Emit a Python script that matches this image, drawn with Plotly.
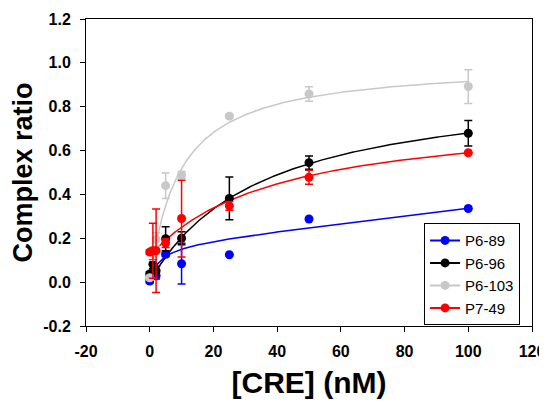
import numpy as np
import plotly.graph_objects as go

# ---- data ----
conc = [0, 1, 2, 5, 10, 25, 50, 100]

p6_89 = [0.005, 0.044, 0.029, 0.127, 0.084, 0.125, 0.288, 0.336]
p6_89_err = [0.01, 0.01, 0.015, 0.01, 0.093, 0.0, 0.0, 0.0]

p6_96 = [0.037, 0.082, 0.052, 0.198, 0.200, 0.382, 0.545, 0.679]
p6_96_err = [0.01, 0.02, 0.02, 0.055, 0.03, 0.097, 0.03, 0.058]

p6_103 = [0.02, 0.13, 0.195, 0.440, 0.489, 0.757, 0.858, 0.892]
p6_103_err = [0.01, 0.03, 0.03, 0.058, 0.015, 0.01, 0.033, 0.077]

p7_49 = [0.137, 0.143, 0.143, 0.178, 0.290, 0.348, 0.478, 0.590]
p7_49_err = [0.01, 0.125, 0.19, 0.02, 0.175, 0.02, 0.032, 0.0]

# binding-curve parameters:
# y = offset + Bmax*x/(Kd+x) + ns*x
fit_offset = [0.0, 0.0, 0.0, 0.12]
fit_bmax = [0.173, 0.918, 1.0, 0.66]
fit_kd = [3.0, 35.0, 9.3, 40.4]
fit_ns = [0.00169, 0.0, 0.0, 0.0]

names = ["P6-89", "P6-96", "P6-103", "P7-49"]
colors = ["#0000ff", "#000000", "#c8c8c8", "#ff0000"]
values = [p6_89, p6_96, p6_103, p7_49]
errors = [p6_89_err, p6_96_err, p6_103_err, p7_49_err]

x_ticks = [-20, 0, 20, 40, 60, 80, 100, 120]
y_ticks = [-0.2, 0.0, 0.2, 0.4, 0.6, 0.8, 1.0, 1.2]

FONT = "Arial, Liberation Sans, sans-serif"

fig = go.Figure()
xs = np.linspace(min(conc), max(conc), 400)
for col, y0, b, k, ns in zip(colors, fit_offset, fit_bmax, fit_kd, fit_ns):
    fig.add_trace(go.Scatter(x=xs, y=y0 + b * xs / (k + xs) + ns * xs, mode="lines",
                             line=dict(color=col, width=1.5),
                             showlegend=False, hoverinfo="skip"))
for name, col, v, e in zip(names, colors, values, errors):
    fig.add_trace(go.Scatter(x=conc, y=v, mode="markers", name=name,
                             marker=dict(color=col, size=9),
                             error_y=dict(type="data", array=e, visible=True,
                                          color=col, thickness=1.5, width=4),
                             showlegend=False))
for name, col in zip(names, colors):
    fig.add_trace(go.Scatter(x=[None], y=[None], mode="lines+markers", name=name,
                             line=dict(color=col, width=2),
                             marker=dict(color=col, size=9)))

fig.update_layout(
    width=539, height=395,
    margin=dict(l=78, r=15, t=11, b=77),
    paper_bgcolor="white", plot_bgcolor="white",
    font=dict(family=FONT, color="black"),
    legend=dict(x=0.758, y=0.335, xanchor="left", yanchor="top",
                bordercolor="black", borderwidth=1, bgcolor="white",
                font=dict(size=15, family=FONT), tracegroupgap=0,
                itemwidth=30),
    xaxis=dict(range=[-20, 120], tickvals=x_ticks,
               ticktext=[str(t) for t in x_ticks], automargin=False,
               ticks="outside", ticklen=5, tickcolor="black",
               showline=True, linecolor="black", linewidth=1, mirror=True,
               showgrid=False, zeroline=False, ticklabelstandoff=6,
               tickfont=dict(size=16, family=FONT, weight="bold"),
               title=dict(text="[CRE] (nM)", standoff=12,
                          font=dict(size=30, family=FONT, weight="bold"))),
    yaxis=dict(range=[-0.2, 1.2], tickvals=y_ticks,
               ticktext=["%.1f" % t for t in y_ticks], automargin=False,
               ticks="outside", ticklen=5, tickcolor="black",
               showline=True, linecolor="black", linewidth=1, mirror=True,
               showgrid=False, zeroline=False, ticklabelstandoff=6,
               tickfont=dict(size=16, family=FONT, weight="bold"),
               title=dict(text="Complex ratio", standoff=6,
                          font=dict(size=27, family=FONT, weight="bold"))),
)

fig.write_html("out.html")
